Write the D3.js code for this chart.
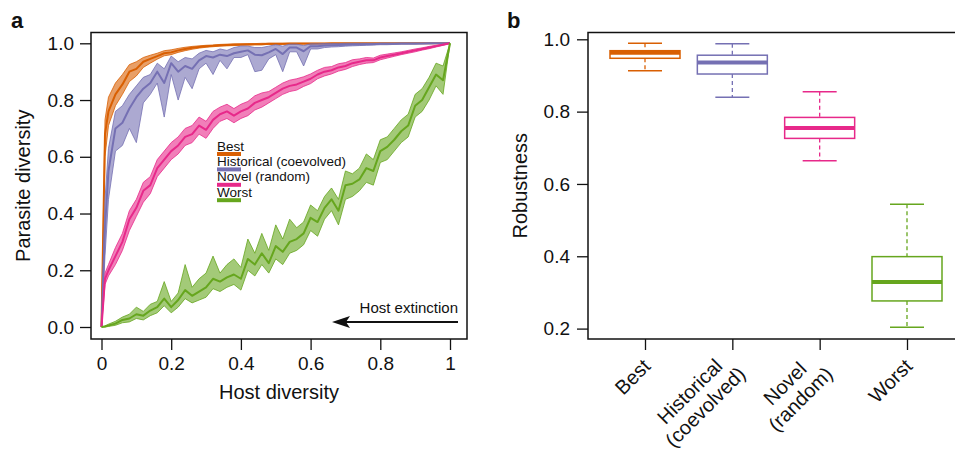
<!DOCTYPE html>
<html>
<head>
<meta charset="utf-8">
<title>Host-parasite diversity and robustness</title>
<script src="https://cdn.jsdelivr.net/npm/d3@7/dist/d3.min.js"></script>
<style>
  body { margin: 0; background: white; }
  text { font-family: "Liberation Sans", Arial, Helvetica, sans-serif; fill: #111; }
  .frame { fill: none; stroke: #111; stroke-width: 1.5; }
  .tick line { stroke: #111; stroke-width: 1.3; }
  .domain { display: none; }
</style>
</head>
<body>
<script>

// ---- panel a : parasite diversity vs host diversity ----
var hostX = [0, 0.01, 0.02, 0.04, 0.06, 0.08, 0.10, 0.12, 0.14, 0.16,
  0.18, 0.20, 0.22, 0.24, 0.26, 0.28, 0.30, 0.32, 0.34, 0.36,
  0.38, 0.40, 0.42, 0.44, 0.46, 0.48, 0.50, 0.52, 0.54, 0.56,
  0.58, 0.60, 0.62, 0.64, 0.66, 0.68, 0.70, 0.72, 0.74, 0.76,
  0.78, 0.80, 0.82, 0.84, 0.86, 0.88, 0.90, 0.92, 0.94, 0.96,
  0.98, 1.00];

var bestMean = [0, 0.68, 0.76, 0.82, 0.855, 0.9, 0.91, 0.935, 0.945, 0.955,
  0.965, 0.968, 0.975, 0.98, 0.984, 0.987, 0.99, 0.991, 0.993, 0.994,
  0.995, 0.996, 0.996, 0.997, 0.997, 0.998, 0.998, 0.998, 0.999, 0.999,
  0.999, 0.999, 0.999, 0.999, 1, 1, 1, 1, 1, 1,
  1, 1, 1, 1, 1, 1, 1, 1, 1, 1,
  1, 1];
var bestLo = [0, 0.6, 0.71, 0.78, 0.82, 0.865, 0.885, 0.915, 0.93, 0.944,
  0.956, 0.96, 0.968, 0.974, 0.979, 0.983, 0.986, 0.988, 0.99, 0.991,
  0.992, 0.993, 0.994, 0.995, 0.995, 0.996, 0.996, 0.996, 0.997, 0.997,
  0.997, 0.997, 0.998, 0.998, 0.998, 0.998, 0.999, 0.999, 0.999, 0.999,
  0.999, 0.999, 0.999, 0.999, 1, 1, 1, 1, 1, 1,
  1, 1];
var bestHi = [0, 0.73, 0.81, 0.86, 0.89, 0.925, 0.935, 0.95, 0.958, 0.965,
  0.974, 0.977, 0.982, 0.986, 0.989, 0.991, 0.993, 0.994, 0.996, 0.997,
  0.998, 0.998, 0.999, 0.999, 1, 1, 1, 1, 1, 1,
  1, 1, 1, 1, 1, 1, 1, 1, 1, 1,
  1, 1, 1, 1, 1, 1, 1, 1, 1, 1,
  1, 1];

var histMean = [0, 0.35, 0.55, 0.70, 0.72, 0.77, 0.81, 0.84, 0.86, 0.90,
  0.86, 0.93, 0.90, 0.92, 0.91, 0.94, 0.955, 0.95, 0.96, 0.955,
  0.965, 0.97, 0.975, 0.96, 0.958, 0.968, 0.98, 0.962, 0.985, 0.985,
  0.972, 0.99, 0.99, 0.992, 0.993, 0.994, 0.995, 0.996, 0.996, 0.997,
  0.997, 0.998, 0.998, 0.998, 0.999, 0.999, 0.999, 0.999, 1, 1,
  1, 1];
var histLo = [0, 0.25, 0.45, 0.62, 0.64, 0.70, 0.65, 0.79, 0.82, 0.86,
  0.74, 0.89, 0.80, 0.88, 0.84, 0.91, 0.93, 0.89, 0.94, 0.91,
  0.95, 0.95, 0.96, 0.90, 0.905, 0.945, 0.96, 0.90, 0.97, 0.97,
  0.92, 0.98, 0.98, 0.985, 0.987, 0.988, 0.99, 0.991, 0.992, 0.993,
  0.994, 0.995, 0.995, 0.996, 0.997, 0.997, 0.997, 0.998, 0.998, 0.999,
  0.999, 1];
var histHi = [0, 0.45, 0.63, 0.76, 0.78, 0.82, 0.85, 0.88, 0.89, 0.93,
  0.91, 0.955, 0.935, 0.95, 0.945, 0.965, 0.975, 0.97, 0.98, 0.975,
  0.985, 0.99, 0.99, 0.985, 0.985, 0.99, 0.995, 0.99, 0.997, 0.997,
  0.992, 0.998, 0.998, 0.999, 0.999, 0.999, 1, 1, 1, 1,
  1, 1, 1, 1, 1, 1, 1, 1, 1, 1,
  1, 1];

var novelMean = [0, 0.17, 0.20, 0.25, 0.30, 0.38, 0.42, 0.48, 0.50, 0.56,
  0.59, 0.62, 0.64, 0.67, 0.68, 0.71, 0.695, 0.73, 0.75, 0.76,
  0.745, 0.76, 0.77, 0.79, 0.80, 0.81, 0.825, 0.84, 0.85, 0.855,
  0.865, 0.875, 0.89, 0.90, 0.905, 0.915, 0.92, 0.93, 0.935, 0.94,
  0.94, 0.95, 0.955, 0.96, 0.965, 0.97, 0.975, 0.98, 0.985, 0.99,
  0.995, 1];
var novelLo = [0, 0.15, 0.18, 0.22, 0.27, 0.34, 0.39, 0.44, 0.47, 0.53,
  0.56, 0.59, 0.61, 0.64, 0.65, 0.68, 0.665, 0.70, 0.725, 0.735,
  0.72, 0.735, 0.745, 0.765, 0.775, 0.79, 0.805, 0.82, 0.83, 0.835,
  0.848, 0.858, 0.875, 0.885, 0.892, 0.902, 0.908, 0.918, 0.925, 0.93,
  0.932, 0.942, 0.948, 0.954, 0.96, 0.965, 0.97, 0.976, 0.981, 0.987,
  0.993, 1];
var novelHi = [0, 0.19, 0.22, 0.28, 0.33, 0.41, 0.45, 0.51, 0.53, 0.59,
  0.62, 0.65, 0.67, 0.70, 0.71, 0.74, 0.725, 0.76, 0.775, 0.785,
  0.77, 0.785, 0.795, 0.815, 0.825, 0.83, 0.845, 0.86, 0.87, 0.875,
  0.882, 0.892, 0.905, 0.915, 0.918, 0.928, 0.932, 0.942, 0.945, 0.95,
  0.948, 0.958, 0.962, 0.966, 0.97, 0.975, 0.98, 0.984, 0.989, 0.993,
  0.997, 1];

var worstMean = [0, 0.002, 0.005, 0.012, 0.025, 0.03, 0.045, 0.04, 0.058, 0.07,
  0.10, 0.07, 0.095, 0.13, 0.11, 0.125, 0.14, 0.17, 0.16, 0.175,
  0.185, 0.17, 0.24, 0.22, 0.26, 0.225, 0.285, 0.265, 0.30, 0.31,
  0.33, 0.385, 0.37, 0.42, 0.45, 0.41, 0.50, 0.505, 0.52, 0.56,
  0.55, 0.62, 0.635, 0.66, 0.69, 0.71, 0.78, 0.80, 0.845, 0.89,
  0.87, 1.0];
var worstLo = [0, 0, 0.002, 0.006, 0.015, 0.018, 0.03, 0.025, 0.04, 0.05,
  0.075, 0.05, 0.07, 0.10, 0.085, 0.095, 0.105, 0.135, 0.125, 0.14,
  0.15, 0.13, 0.20, 0.18, 0.22, 0.19, 0.24, 0.22, 0.26, 0.27,
  0.29, 0.34, 0.32, 0.38, 0.41, 0.36, 0.45, 0.46, 0.48, 0.51,
  0.50, 0.58, 0.59, 0.62, 0.65, 0.67, 0.74, 0.76, 0.80, 0.85,
  0.82, 1];
var worstHi = [0, 0.004, 0.01, 0.02, 0.035, 0.045, 0.07, 0.055, 0.08, 0.09,
  0.16, 0.09, 0.12, 0.22, 0.14, 0.17, 0.19, 0.25, 0.19, 0.22,
  0.24, 0.21, 0.31, 0.26, 0.33, 0.27, 0.36, 0.31, 0.38, 0.35,
  0.37, 0.43, 0.41, 0.46, 0.49, 0.45, 0.55, 0.54, 0.56, 0.61,
  0.59, 0.66, 0.67, 0.70, 0.73, 0.75, 0.82, 0.84, 0.88, 0.93,
  0.92, 1];

var seriesNames = ["Best", "Historical (coevolved)", "Novel (random)", "Worst"];
var seriesColors = ["#d95f02", "#7570b3", "#e7298a", "#66a61e"];

var xTicksA = [0, 0.2, 0.4, 0.6, 0.8, 1];
var yTicksA = [0, 0.2, 0.4, 0.6, 0.8, 1];

// ---- panel b : robustness boxplots ----
var boxLabels = [["Best"], ["Historical", "(coevolved)"], ["Novel", "(random)"], ["Worst"]];
var whiskerLow = [0.913, 0.840, 0.664, 0.2035];
var quart1 = [0.9475, 0.904, 0.726, 0.2765];
var medians = [0.963, 0.936, 0.755, 0.329];
var quart3 = [0.9685, 0.956, 0.784, 0.399];
var whiskerHigh = [0.989, 0.988, 0.855, 0.544];
var yTicksB = [0.2, 0.4, 0.6, 0.8, 1.0];

var width = 955,
    height = 460;

var svg = d3.select("body").append("svg")
    .attr("width", width)
    .attr("height", height);

var fmt1 = d3.format(".1f");

// ================= panel a =================
var frameA = {left: 91, top: 32.5, right: 467, bottom: 339};
var xA = d3.scaleLinear().domain([0, 1]).range([101.5, 450]);
var yA = d3.scaleLinear().domain([0, 1]).range([327, 43.3]);

var seriesData = [
  {mean: bestMean, lo: bestLo, hi: bestHi},
  {mean: histMean, lo: histLo, hi: histHi},
  {mean: novelMean, lo: novelLo, hi: novelHi},
  {mean: worstMean, lo: worstLo, hi: worstHi}
];

var area = d3.area()
    .x(function(d, i) { return xA(hostX[i]); })
    .y0(function(d) { return yA(d[0]); })
    .y1(function(d) { return yA(d[1]); });

var line = d3.line()
    .x(function(d, i) { return xA(hostX[i]); })
    .y(function(d) { return yA(d); });

var gA = svg.append("g");

seriesData.forEach(function(s, k) {
  var band = s.lo.map(function(v, i) { return [v, s.hi[i]]; });
  gA.append("path")
    .attr("d", area(band))
    .attr("fill", seriesColors[k])
    .attr("fill-opacity", 0.6)
    .attr("stroke", seriesColors[k])
    .attr("stroke-width", 0.8)
    .attr("stroke-linejoin", "round");
  gA.append("path")
    .attr("d", line(s.mean))
    .attr("fill", "none")
    .attr("stroke", seriesColors[k])
    .attr("stroke-width", 2)
    .attr("stroke-linejoin", "round");
});

svg.append("rect").attr("class", "frame")
    .attr("x", frameA.left).attr("y", frameA.top)
    .attr("width", frameA.right - frameA.left)
    .attr("height", frameA.bottom - frameA.top);

var axA_y = svg.append("g")
    .attr("transform", "translate(" + frameA.left + ",0)")
    .call(d3.axisLeft(yA).tickValues(yTicksA).tickFormat(fmt1).tickSize(11).tickPadding(6));
axA_y.selectAll("text").style("font-size", "19px");

var axA_x = svg.append("g")
    .attr("transform", "translate(0," + frameA.bottom + ")")
    .call(d3.axisBottom(xA).tickValues(xTicksA)
      .tickFormat(function(d) { return (d === 0 || d === 1) ? d : fmt1(d); })
      .tickSize(11).tickPadding(7));
axA_x.selectAll("text").style("font-size", "19px");

svg.selectAll(".tick text").attr("fill", "#111");

svg.append("text")
    .attr("transform", "translate(30," + ((frameA.top + frameA.bottom) / 2) + ") rotate(-90)")
    .attr("text-anchor", "middle")
    .style("font-size", "20px")
    .text("Parasite diversity");

svg.append("text")
    .attr("x", (frameA.left + frameA.right) / 2)
    .attr("y", 399)
    .attr("text-anchor", "middle")
    .style("font-size", "20px")
    .text("Host diversity");

// legend
var legend = svg.append("g").attr("transform", "translate(217,150.5)");
seriesNames.forEach(function(name, k) {
  legend.append("text")
    .attr("x", 0).attr("y", k * 15.4)
    .style("font-size", "13.5px")
    .text(name);
  legend.append("line")
    .attr("x1", 0).attr("x2", 24)
    .attr("y1", k * 15.4 + 3.5).attr("y2", k * 15.4 + 3.5)
    .attr("stroke", seriesColors[k])
    .attr("stroke-width", 4);
});

// host extinction arrow
svg.append("text")
    .attr("x", 458).attr("y", 313)
    .attr("text-anchor", "end")
    .style("font-size", "15px")
    .text("Host extinction");
svg.append("line")
    .attr("x1", 458).attr("x2", 345)
    .attr("y1", 322).attr("y2", 322)
    .attr("stroke", "#111").attr("stroke-width", 2);
svg.append("path")
    .attr("d", "M332,322 L350,316 L346,322 L350,328 Z")
    .attr("fill", "#111");

svg.append("text")
    .attr("x", 11).attr("y", 28)
    .style("font-size", "22px").style("font-weight", "bold")
    .text("a");

// ================= panel b =================
var frameB = {left: 588, top: 32.5, right: 962, bottom: 339};
var xB = d3.scalePoint().domain(d3.range(boxLabels.length)).range([645, 907]);
var yB = d3.scaleLinear().domain([0.2, 1]).range([328.6, 39.3]);
var boxHalf = 35, capHalf = 17;

svg.append("rect").attr("class", "frame")
    .attr("x", frameB.left).attr("y", frameB.top)
    .attr("width", frameB.right - frameB.left)
    .attr("height", frameB.bottom - frameB.top);

var boxes = svg.selectAll("g.box")
    .data(d3.range(boxLabels.length)).enter().append("g")
    .attr("class", "box");

// dashed whiskers
boxes.append("line")
    .attr("x1", function(i) { return xB(i); }).attr("x2", function(i) { return xB(i); })
    .attr("y1", function(i) { return yB(whiskerHigh[i]); })
    .attr("y2", function(i) { return yB(quart3[i]); })
    .attr("stroke", function(i) { return seriesColors[i]; })
    .attr("stroke-width", 1.3).attr("stroke-dasharray", "4,3");
boxes.append("line")
    .attr("x1", function(i) { return xB(i); }).attr("x2", function(i) { return xB(i); })
    .attr("y1", function(i) { return yB(quart1[i]); })
    .attr("y2", function(i) { return yB(whiskerLow[i]); })
    .attr("stroke", function(i) { return seriesColors[i]; })
    .attr("stroke-width", 1.3).attr("stroke-dasharray", "4,3");
// caps
[whiskerHigh, whiskerLow].forEach(function(arr) {
  boxes.append("line")
    .attr("x1", function(i) { return xB(i) - capHalf; })
    .attr("x2", function(i) { return xB(i) + capHalf; })
    .attr("y1", function(i) { return yB(arr[i]); })
    .attr("y2", function(i) { return yB(arr[i]); })
    .attr("stroke", function(i) { return seriesColors[i]; })
    .attr("stroke-width", 1.5);
});
boxes.append("rect")
    .attr("x", function(i) { return xB(i) - boxHalf; })
    .attr("width", boxHalf * 2)
    .attr("y", function(i) { return yB(quart3[i]); })
    .attr("height", function(i) { return yB(quart1[i]) - yB(quart3[i]); })
    .attr("fill", "white")
    .attr("stroke", function(i) { return seriesColors[i]; })
    .attr("stroke-width", 1.5);
boxes.append("line")
    .attr("x1", function(i) { return xB(i) - boxHalf; })
    .attr("x2", function(i) { return xB(i) + boxHalf; })
    .attr("y1", function(i) { return yB(medians[i]); })
    .attr("y2", function(i) { return yB(medians[i]); })
    .attr("stroke", function(i) { return seriesColors[i]; })
    .attr("stroke-width", 4);

var axB_y = svg.append("g")
    .attr("transform", "translate(" + frameB.left + ",0)")
    .call(d3.axisLeft(yB).tickValues(yTicksB).tickFormat(fmt1).tickSize(11).tickPadding(7));
axB_y.selectAll("text").style("font-size", "19px").attr("fill", "#111");

svg.append("g")
    .attr("transform", "translate(0," + frameB.bottom + ")")
    .call(d3.axisBottom(xB).tickFormat("").tickSize(11));

// rotated category labels (lines centred within each block)
var labG = svg.selectAll("g.catlab")
    .data(d3.range(boxLabels.length)).enter().append("g")
    .attr("class", "catlab")
    .attr("transform", function(i) { return "translate(" + (xB(i) + 8) + ",369) rotate(-45)"; });
labG.each(function(i) {
  var g = d3.select(this);
  var lines = boxLabels[i];
  var n = lines.length;
  var texts = lines.map(function(t, j) {
    return g.append("text")
      .attr("y", (j - (n - 1) / 2) * 22 - 2)
      .attr("text-anchor", "middle")
      .style("font-size", "20px")
      .text(t);
  });
  var maxW = d3.max(texts, function(t) { return t.node().getComputedTextLength(); });
  texts.forEach(function(t) { t.attr("x", -maxW / 2); });
});

svg.append("text")
    .attr("transform", "translate(527," + ((frameB.top + frameB.bottom) / 2) + ") rotate(-90)")
    .attr("text-anchor", "middle")
    .style("font-size", "20px")
    .text("Robustness");

svg.append("text")
    .attr("x", 507).attr("y", 28)
    .style("font-size", "22px").style("font-weight", "bold")
    .text("b");

</script>
</body>
</html>
